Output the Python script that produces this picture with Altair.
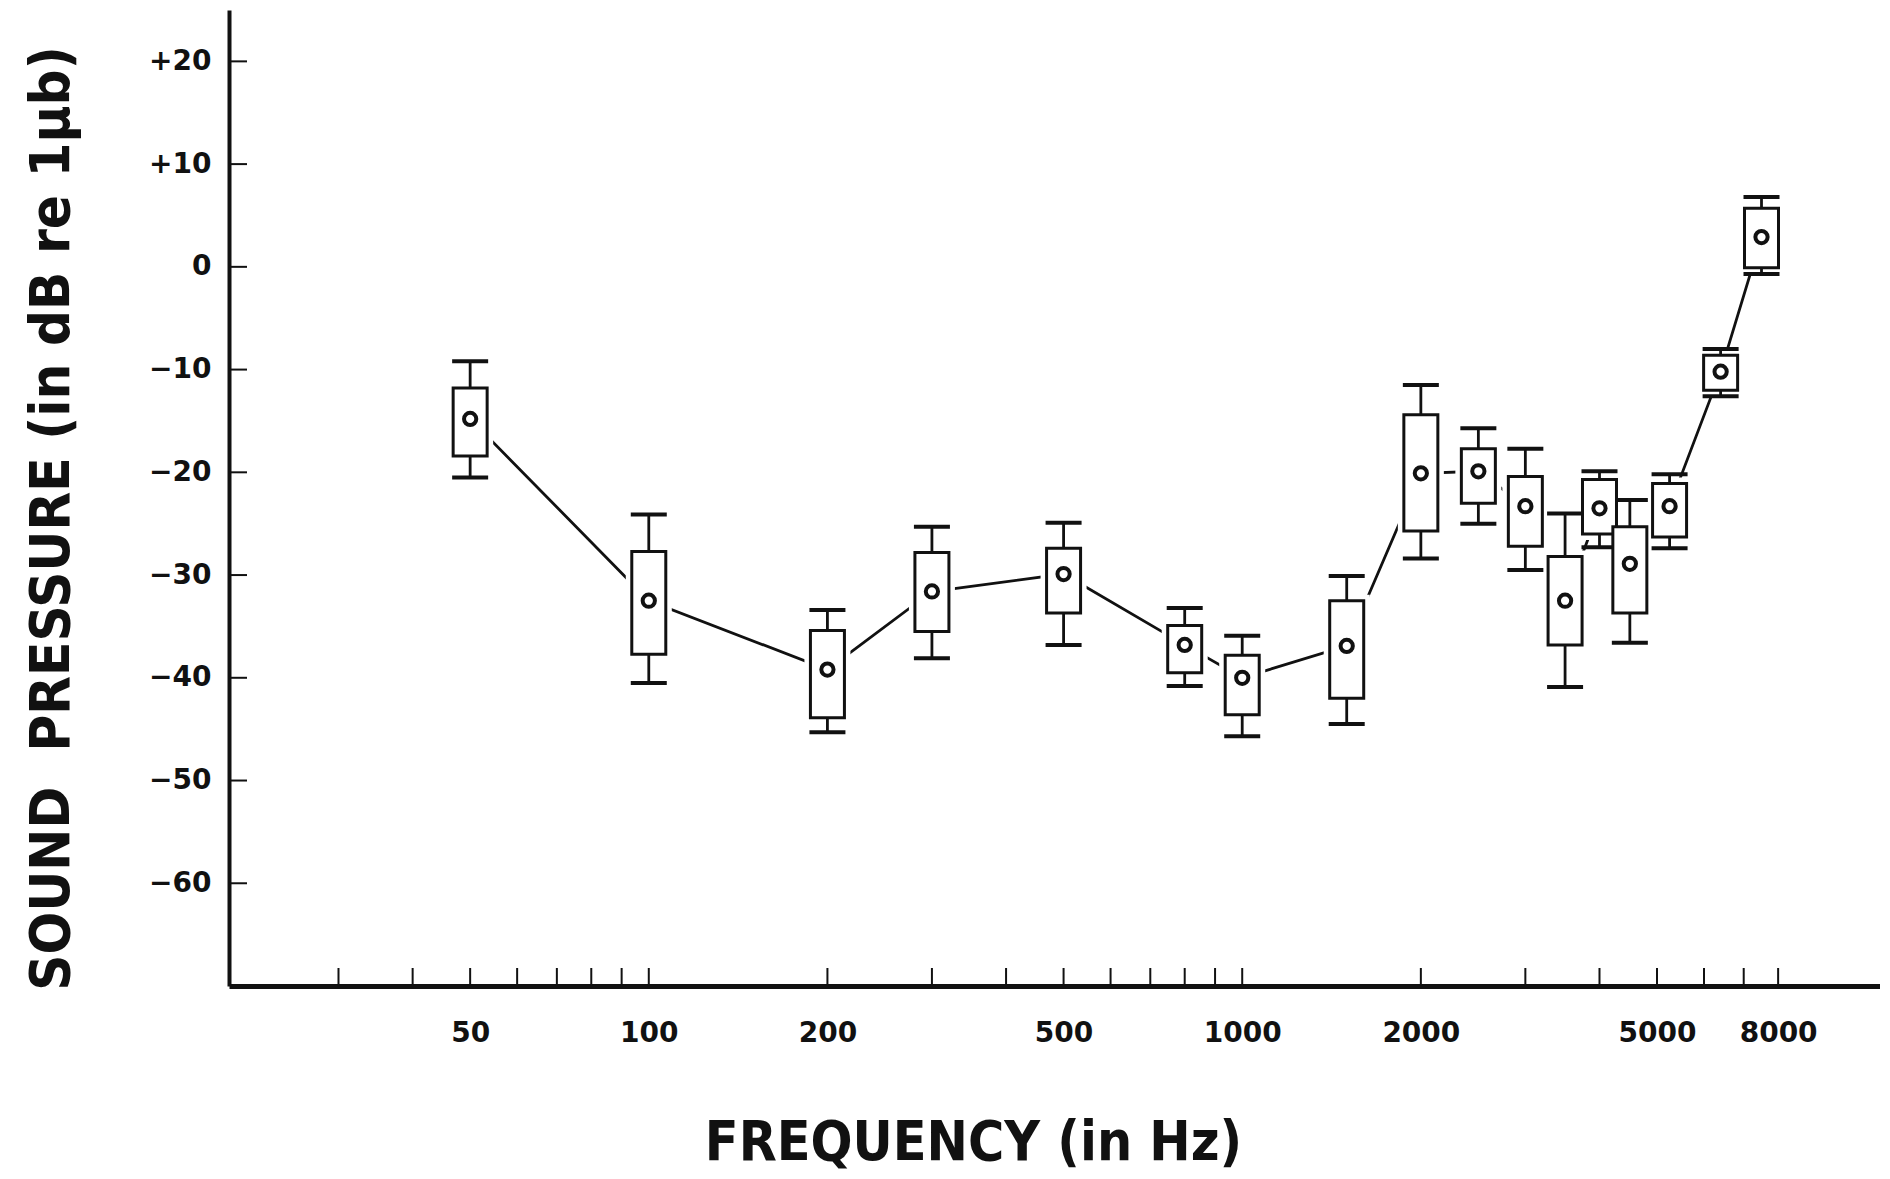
import altair as alt
import pandas as pd

# ---- data ----
freq = [50, 100, 200, 300, 500, 800, 1000, 1500, 2000, 2500, 3000, 3500, 4000, 4500, 5250, 6400, 7500]
mean = [-14.8, -32.5, -39.2, -31.6, -29.9, -36.8, -40.0, -36.9, -20.1, -19.9, -23.3, -32.5, -23.5, -28.9, -23.3, -10.2, 2.9]
box_hi = [-11.8, -27.7, -35.4, -27.8, -27.4, -34.9, -37.8, -32.5, -14.4, -17.7, -20.4, -28.2, -20.7, -25.3, -21.1, -8.6, 5.7]
box_lo = [-18.4, -37.7, -43.9, -35.5, -33.7, -39.5, -43.6, -42.0, -25.7, -23.0, -27.2, -36.8, -26.0, -33.7, -26.3, -12.0, -0.1]
wh_hi = [-9.2, -24.1, -33.4, -25.3, -24.9, -33.2, -35.9, -30.1, -11.5, -15.7, -17.7, -24.0, -19.9, -22.7, -20.2, -8.0, 6.8]
wh_lo = [-20.5, -40.5, -45.3, -38.1, -36.8, -40.8, -45.7, -44.5, -28.4, -25.0, -29.5, -40.9, -27.3, -36.6, -27.4, -12.6, -0.7]

x_ticks = [30, 40, 50, 60, 70, 80, 90, 100, 200, 300, 400, 500, 600, 700, 800, 900,
           1000, 2000, 3000, 4000, 5000, 6000, 7000, 8000]
x_labels = [50, 100, 200, 500, 1000, 2000, 5000, 8000]
y_ticks = [20, 10, 0, -10, -20, -30, -40, -50, -60]

x_title = "FREQUENCY (in Hz)"
y_title = "SOUND\u00a0\u00a0PRESSURE (in dB re 1µb)"

df = pd.DataFrame(dict(freq=freq, mean=mean, box_hi=box_hi, box_lo=box_lo,
                       wh_hi=wh_hi, wh_lo=wh_lo))
dfx = pd.DataFrame(dict(t=x_ticks))
dfy = pd.DataFrame(dict(v=y_ticks))

W, H = 1651, 976
INK = "#111111"
FONT = "DejaVu Sans"
TFONT = "DejaVu Sans Condensed, Liberation Sans Narrow, DejaVu Sans"

xscale = alt.Scale(type="log", domain=[20, 11650], nice=False)
yscale = alt.Scale(domain=[-70, 25], nice=False, zero=False)

xaxis = alt.Axis(values=x_labels, format="d", ticks=False, tickSize=0, grid=False,
                 domainColor=INK, domainWidth=5,
                 labelFont=FONT, labelFontSize=28, labelFontWeight="bold", labelColor=INK,
                 labelPadding=33, title=x_title, titleFont=TFONT, titleFontSize=55,
                 titleFontWeight="bold", titleColor=INK, titleX=744, titleY=156,
                 titleBaseline="middle", titleAlign="center")
yaxis = alt.Axis(values=y_ticks, ticks=False, tickSize=0, grid=False,
                 domainColor=INK, domainWidth=4,
                 labelExpr="datum.value > 0 ? '+' + datum.value : (datum.value < 0 ? '\u2212' + abs(datum.value) : '0')",
                 labelFont=FONT, labelFontSize=28, labelFontWeight="bold", labelColor=INK,
                 labelPadding=18, title=y_title, titleFont=TFONT, titleFontSize=56,
                 titleFontWeight="bold", titleColor=INK, titleX=-178, titleY=508,
                 titleBaseline="middle", titleAlign="center", titleAngle=270)

X = alt.X("freq:Q", scale=xscale, axis=xaxis)
base = alt.Chart(df)

line = base.mark_line(color=INK, strokeWidth=2.8).encode(
    x=X, y=alt.Y("mean:Q", scale=yscale, axis=yaxis))

gap = base.mark_bar(size=34, fill="white", stroke="white", strokeWidth=12).encode(
    x=X, y=alt.Y("box_hi:Q", scale=yscale, axis=yaxis), y2="box_lo:Q")

wh_up = base.mark_rule(color=INK, strokeWidth=2.8).encode(
    x=X, y=alt.Y("wh_hi:Q", scale=yscale, axis=yaxis), y2="box_hi:Q")
wh_dn = base.mark_rule(color=INK, strokeWidth=2.8).encode(
    x=X, y=alt.Y("box_lo:Q", scale=yscale, axis=yaxis), y2="wh_lo:Q")

cap_up = base.mark_tick(orient="horizontal", size=36, thickness=4, color=INK, opacity=1).encode(
    x=X, y=alt.Y("wh_hi:Q", scale=yscale, axis=yaxis))
cap_dn = base.mark_tick(orient="horizontal", size=36, thickness=4, color=INK, opacity=1).encode(
    x=X, y=alt.Y("wh_lo:Q", scale=yscale, axis=yaxis))

box = base.mark_bar(size=34, fill="white", stroke=INK, strokeWidth=3).encode(
    x=X, y=alt.Y("box_hi:Q", scale=yscale, axis=yaxis), y2="box_lo:Q")

dot = base.mark_point(shape="circle", filled=False, size=150, strokeWidth=4,
                      color=INK, opacity=1).encode(
    x=X, y=alt.Y("mean:Q", scale=yscale, axis=yaxis))

xt = alt.Chart(dfx).mark_rule(color=INK, strokeWidth=2).encode(
    x=alt.X("t:Q", scale=xscale, axis=xaxis),
    y=alt.value(H - 18), y2=alt.value(H))

yt = alt.Chart(dfy).mark_rule(color=INK, strokeWidth=2).encode(
    y=alt.Y("v:Q", scale=yscale, axis=yaxis),
    x=alt.value(0), x2=alt.value(18))

chart = alt.layer(line, gap, wh_up, wh_dn, cap_up, cap_dn, box, dot, xt, yt).properties(
    width=W, height=H,
    padding={"left": 221, "top": 2, "right": 0, "bottom": 185},
    autosize=alt.AutoSizeParams(type="none"),
    background="white",
).configure_view(stroke=None)

chart.save("out.html", embed_options={"renderer": "svg", "actions": False})
